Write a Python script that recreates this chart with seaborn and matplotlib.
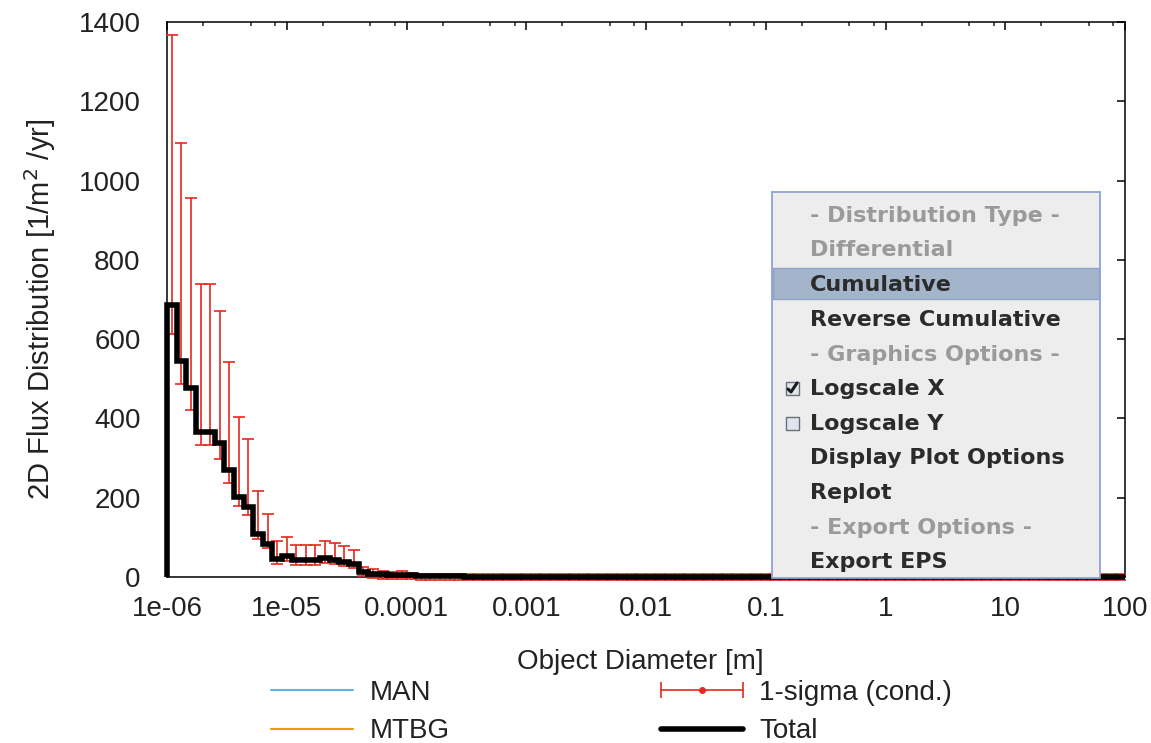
import numpy as np
import seaborn as sns
import matplotlib
matplotlib.use("Agg")
import matplotlib.pyplot as plt
from matplotlib.lines import Line2D
from matplotlib.patches import Rectangle
from matplotlib.legend_handler import HandlerLine2D, HandlerTuple
from matplotlib.ticker import FixedLocator, FixedFormatter, LogLocator, NullFormatter

# ---------------- data ----------------
total_flux = [
    686, 546, 477, 365, 365, 337, 270, 202, 176, 108,
    82, 46, 52, 42, 42, 42, 47, 44, 39, 32,
    12, 8, 7, 6, 6, 4, 3, 2.5, 2, 1.5,
    1.3, 1.2, 1.1, 1.0, 1.0, 0.9, 0.9, 0.8, 0.8, 0.8,
    0.7, 0.7, 0.7, 0.6, 0.6, 0.6, 0.6, 0.5, 0.5, 0.5,
    0.5, 0.5, 0.4, 0.4, 0.4, 0.4, 0.4, 0.4, 0.3, 0.3,
    0.3, 0.3, 0.3, 0.3, 0.3, 0.3, 0.2, 0.2, 0.2, 0.2,
    0.2, 0.2, 0.2, 0.2, 0.2, 0.2, 0.2, 0.1, 0.1, 0.1,
    0.1, 0.1, 0.1, 0.1, 0.1, 0.1, 0.1, 0.1, 0.1, 0.1,
    0.1, 0.1, 0.1, 0.1, 0.1, 0.1, 0.1, 0.1, 0.1, 0.1,
]
sigma_upper = [
    1368, 1095, 957, 740, 740, 671, 542, 403, 347, 218,
    158, 91, 100, 81, 81, 81, 90, 85, 78, 67,
    26, 19, 15, 13, 16, 10, 8.5, 8, 8, 8,
    8, 8, 8, 8, 8, 8, 8, 8, 8, 8,
    8, 8, 8, 8, 8, 8, 8, 8, 8, 8,
    8, 8, 8, 8, 8, 8, 8, 8, 8, 8,
    8, 8, 8, 8, 8, 8, 8, 8, 8, 8,
    8, 8, 8, 8, 8, 8, 8, 8, 8, 8,
    8, 8, 8, 8, 8, 8, 8, 8, 8, 8,
    8, 8, 8, 8, 8, 8, 8, 8, 8, 8,
]
sigma_lower = [
    613, 488, 422, 332, 332, 298, 238, 178, 156, 95,
    72, 34, 40, 30, 30, 30, 35, 33, 28, 22,
    2, -3, -4, -5, -4, -6, -7, -7, -7.5, -7.5,
    -7.5, -7.5, -7.5, -7.5, -7.5, -7.5, -7.5, -7.5, -7.5, -7.5,
    -7.5, -7.5, -7.5, -7.5, -7.5, -7.5, -7.5, -7.5, -7.5, -7.5,
    -7.5, -7.5, -7.5, -7.5, -7.5, -7.5, -7.5, -7.5, -7.5, -7.5,
    -7.5, -7.5, -7.5, -7.5, -7.5, -7.5, -7.5, -7.5, -7.5, -7.5,
    -7.5, -7.5, -7.5, -7.5, -7.5, -7.5, -7.5, -7.5, -7.5, -7.5,
    -7.5, -7.5, -7.5, -7.5, -7.5, -7.5, -7.5, -7.5, -7.5, -7.5,
    -7.5, -7.5, -7.5, -7.5, -7.5, -7.5, -7.5, -7.5, -7.5, -7.5,
]
man_flux = [0.0] * 100
mtbg_flux = [0.0] * 100

x_tick_values = [1e-6, 1e-5, 1e-4, 1e-3, 1e-2, 1e-1, 1, 10, 100]
x_tick_labels = ["1e-06", "1e-05", "0.0001", "0.001", "0.01", "0.1", "1", "10", "100"]
y_tick_values = [0, 200, 400, 600, 800, 1000, 1200, 1400]
y_tick_labels = ["0", "200", "400", "600", "800", "1000", "1200", "1400"]

menu_items = [
    ("- Distribution Type -", "header"),
    ("Differential", "disabled"),
    ("Cumulative", "selected"),
    ("Reverse Cumulative", "item"),
    ("- Graphics Options -", "header"),
    ("Logscale X", "checked"),
    ("Logscale Y", "unchecked"),
    ("Display Plot Options", "item"),
    ("Replot", "item"),
    ("- Export Options -", "header"),
    ("Export EPS", "item"),
]

# ---------------- style ----------------
sns.set_style("white")
plt.rcParams["font.family"] = ["Liberation Sans", "DejaVu Sans"]
plt.rcParams["axes.edgecolor"] = "black"
plt.rcParams["axes.linewidth"] = 1.1

W, H = 1151, 743
fig = plt.figure(figsize=(W / 100, H / 100), dpi=100)
fig.patch.set_facecolor("white")
ax = fig.add_axes([167 / W, 1 - 577 / H, (1125 - 167) / W, (577 - 22) / H])

edges = np.logspace(-6, 2, len(total_flux) + 1)
centers = np.sqrt(edges[:-1] * edges[1:])
total = np.array(total_flux, dtype=float)
hi = np.array(sigma_upper, dtype=float)
lo = np.array(sigma_lower, dtype=float)

ax.set_xscale("log")
ax.set_xlim(1e-6, 100)
ax.set_ylim(0, 1400)

RED = "#e8281e"
BLUE = "#56b4e9"
ORANGE = "#e69f00"

# component series (lie along zero, under the axis line)
for vals, col in [(man_flux, BLUE), (mtbg_flux, ORANGE)]:
    sns.lineplot(x=list(edges), y=list(vals) + [vals[-1]], drawstyle="steps-post",
                 estimator=None, sort=False, color=col, lw=0.8, ax=ax, zorder=1)

# error bars
eb = ax.errorbar(centers, total, yerr=[total - lo, hi - total], fmt="none",
                 ecolor=RED, elinewidth=1.2, capsize=4, capthick=1.2, zorder=3)
for art in list(eb.lines[1]) + list(eb.lines[2]):
    art.set_clip_on(False)

# total step line
xs = [edges[0]] + list(edges)
ys = [0.0] + list(total) + [total[-1]]
sns.lineplot(x=xs, y=ys, drawstyle="steps-post", estimator=None, sort=False,
             color="black", lw=4, ax=ax, zorder=4)
for ln in ax.lines[-1:]:
    ln.set_clip_on(False)
    ln.set_solid_joinstyle("miter")
    ln.set_solid_capstyle("butt")

# ticks
ax.xaxis.set_major_locator(FixedLocator(x_tick_values))
ax.xaxis.set_major_formatter(FixedFormatter(x_tick_labels))
ax.xaxis.set_minor_locator(LogLocator(base=10, subs=[2, 5, 8], numticks=50))
ax.xaxis.set_minor_formatter(NullFormatter())
ax.yaxis.set_major_locator(FixedLocator(y_tick_values))
ax.yaxis.set_major_formatter(FixedFormatter(y_tick_labels))
ax.tick_params(which="major", direction="in", length=5.5, width=1.1, top=True, right=True,
               labelsize=20, labelcolor="#222222", color="black")
ax.tick_params(which="minor", direction="in", length=2.7, width=1.1, top=True, right=True)
ax.tick_params(axis="x", which="major", pad=14)
ax.tick_params(axis="y", which="major", pad=19)
for s in ax.spines.values():
    s.set_visible(True)
    s.set_zorder(2.5)

ax.set_xlabel("Object Diameter [m]", fontsize=20, color="#222222", labelpad=19)
ax.set_ylabel("2D Flux Distribution [1/m$^{2}$ /yr]", fontsize=21, color="#222222", labelpad=15)
ax.xaxis.label.set_x(0.494)
ax.yaxis.label.set_y(0.483)

# legend
h_man = Line2D([], [], color=BLUE, lw=1.5)
h_mtbg = Line2D([], [], color=ORANGE, lw=1.5)
caps = Line2D([], [], color=RED, lw=1.2, marker="|", markersize=11, markeredgewidth=1.2)
dot = Line2D([], [], color=RED, lw=0, marker="o", markersize=4)
h_sig = (caps, dot)
h_tot = Line2D([], [], color="black", lw=4)
leg = fig.legend([h_man, h_mtbg, h_sig, h_tot], ["MAN", "MTBG", "1-sigma (cond.)", "Total"],
                 ncol=2, loc="upper left", bbox_to_anchor=(271 / W, 1 - 680 / H),
                 frameon=False, fontsize=20, handlelength=2.95, handletextpad=0.6,
                 columnspacing=7.6, labelspacing=0.44, borderpad=0, borderaxespad=0,
                 numpoints=1,
                 handler_map={caps: HandlerLine2D(numpoints=2, marker_pad=0.0),
                              tuple: HandlerTuple(ndivide=1, pad=0)})
for t in leg.get_texts():
    t.set_color("#222222")

# popup menu overlay (figure pixel coordinates)
def fx(px):
    return px / W

def fy(py):
    return 1 - py / H

mx0, mx1, my0, my1 = 772, 1100, 192, 578
fig.patches.append(Rectangle((fx(mx0), fy(my1)), fx(mx1) - fx(mx0), fy(my0) - fy(my1),
                             transform=fig.transFigure, facecolor="#ededed",
                             edgecolor="#8ea2d2", lw=1.3, zorder=10))
fig.patches.append(Rectangle((fx(mx0 + 1), fy(299)), fx(mx1 - 1) - fx(mx0 + 1), fy(268) - fy(299),
                             transform=fig.transFigure, facecolor="#a3b4cb",
                             edgecolor="#8fa3c9", lw=1.0, zorder=11))
row_y = [216, 250, 285, 320, 355, 389, 424, 458, 493, 528, 562]
for (label, kind), yy in zip(menu_items, row_y):
    color = "#9a9a9a" if kind in ("header", "disabled") else "#2b2b2b"
    fig.text(fx(810), fy(yy), label, fontsize=16, fontweight="bold", color=color,
             family="DejaVu Sans", ha="left", va="center", zorder=12)
    if kind in ("checked", "unchecked"):
        fig.patches.append(Rectangle((fx(786), fy(yy + 6)), fx(799) - fx(786), fy(yy - 7) - fy(yy + 6),
                                     transform=fig.transFigure, facecolor="#dfe5ee",
                                     edgecolor="#6b6f78", lw=1.0, zorder=12))
        if kind == "checked":
            fig.lines.append(Line2D([fx(788), fx(791), fx(797)], [fy(yy), fy(yy + 3), fy(yy - 6)],
                                    transform=fig.transFigure, color="#1a1a1a", lw=2.2, zorder=13))

fig.savefig("out.png", dpi=100)
